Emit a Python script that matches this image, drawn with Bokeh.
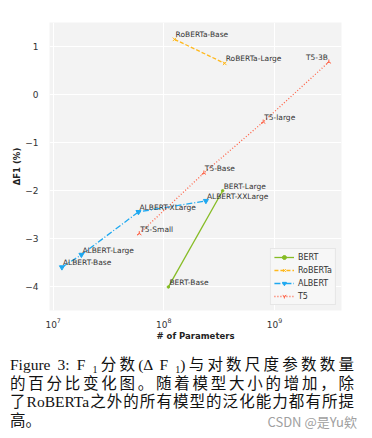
import math
from bokeh.plotting import figure
from bokeh.models import FixedTicker, Div, Range1d
from bokeh.layouts import column
from bokeh.core.properties import value
from bokeh.embed import file_html
from bokeh.resources import INLINE

# ---- data ----
bert_names = ["BERT-Base", "BERT-Large"]
bert_params = [1.1e8, 3.4e8]
bert_delta = [-4.0, -2.0]

roberta_names = ["RoBERTa-Base", "RoBERTa-Large"]
roberta_params = [1.25e8, 3.55e8]
roberta_delta = [1.15, 0.65]

albert_names = ["ALBERT-Base", "ALBERT-Large", "ALBERT-XLarge", "ALBERT-XXLarge"]
albert_params = [1.2e7, 1.8e7, 5.9e7, 2.4e8]
albert_delta = [-3.59, -3.33, -2.44, -2.21]

t5_names = ["T5-Small", "T5-Base", "T5-large", "T5-3B"]
t5_params = [6.0e7, 2.3e8, 7.9e8, 3.1e9]
t5_delta = [-2.89, -1.63, -0.57, 0.68]

y_ticks = [-4, -3, -2, -1, 0, 1]
x_ticks = [1e7, 1e8, 1e9]

SUB = '<span style="font-size:10px;position:relative;top:3px;line-height:0;">1</span>'
caption_lines = [
    f"Figure 3: F {SUB}分数(Δ F {SUB})与对数尺度参数数量",
    "的百分比变化图。随着模型大小的增加，除",
    "了RoBERTa之外的所有模型的泛化能力都有所提",
    "高。",
]
watermark = "CSDN @是Yu欸"

FONT = "DejaVu Sans"

p = figure(width=372, height=343, x_axis_type="log",
           x_range=Range1d(9.27e6, 4.03e9), y_range=Range1d(-4.49, 1.50),
           output_backend="svg", toolbar_location=None,
           min_border_left=49, min_border_right=31, min_border_top=22, min_border_bottom=32)
p.outline_line_color = None
p.background_fill_color = "#f3f3f3"
p.border_fill_color = "white"

p.xaxis.ticker = FixedTicker(ticks=x_ticks, minor_ticks=[])
p.yaxis.ticker = FixedTicker(ticks=y_ticks, minor_ticks=[])
p.yaxis.major_label_overrides = {t: (str(t).replace("-", "\u2212")) for t in y_ticks}
for ax in (p.xaxis, p.yaxis):
    ax.axis_line_color = None
    ax.major_tick_line_color = None
    ax.minor_tick_line_color = None
    ax.major_label_text_font = FONT
    ax.major_label_text_font_size = "9px"
    ax.major_label_text_color = "#333333"
    ax.axis_label_text_font = FONT
    ax.axis_label_text_font_style = "bold"
    ax.axis_label_text_font_size = "8.5px"
    ax.axis_label_text_color = "#222222"
p.xaxis.axis_label = "# of Parameters"
p.yaxis.axis_label = "ΔF1 (%)"
p.xaxis.major_label_standoff = 1
p.xaxis.axis_label_standoff = 0
p.yaxis.major_label_standoff = 5
p.yaxis.axis_label_standoff = 0

p.xgrid.grid_line_color = "white"
p.ygrid.grid_line_color = "white"
p.xgrid.ticker = FixedTicker(ticks=x_ticks, minor_ticks=[])
p.ygrid.ticker = FixedTicker(ticks=y_ticks, minor_ticks=[])
p.xgrid.grid_line_width = 1
p.ygrid.grid_line_width = 1

c_bert = "#86bc25"
c_rob = "#ffb81c"
c_alb = "#1ea8f0"
c_t5 = "#ff6347"

p.line(bert_params, bert_delta, color=c_bert, line_width=1.3, legend_label="BERT")
p.scatter(bert_params, bert_delta, marker="circle", size=2.5, color=c_bert, legend_label="BERT")

p.line(roberta_params, roberta_delta, color=c_rob, line_width=1.3, line_dash="4 2", legend_label="RoBERTa")
p.scatter(roberta_params, roberta_delta, marker="x", size=5, line_color=c_rob, line_width=1, legend_label="RoBERTa")

p.line(albert_params, albert_delta, color=c_alb, line_width=1.3, line_dash="6 2 1 2", legend_label="ALBERT")
p.scatter(albert_params, albert_delta, marker="inverted_triangle", size=5, color=c_alb, legend_label="ALBERT")

p.line(t5_params, t5_delta, color=c_t5, line_width=1.3, line_dash="1 2", legend_label="T5")
p.scatter(t5_params, t5_delta, marker="y", size=5, angle=math.pi, line_color=c_t5, line_width=1, legend_label="T5")

lab_kw = dict(text_font=value(FONT), text_font_size="7.5px", text_color="#333333",
              text_baseline="bottom")
left_x = bert_params + roberta_params + albert_params + t5_params[:3]
left_y = bert_delta + roberta_delta + albert_delta + t5_delta[:3]
left_t = bert_names + roberta_names + albert_names + t5_names[:3]
p.text(left_x, left_y, text=left_t, text_align="left", x_offset=1, **lab_kw)
p.text(t5_params[3:], t5_delta[3:], text=t5_names[3:], text_align="right", x_offset=-1, **lab_kw)

lg = p.legend[0]
lg.location = "bottom_right"
lg.margin = 5
lg.padding = 3
lg.spacing = 3
lg.glyph_width = 20
lg.glyph_height = 10
lg.label_height = 10
lg.label_standoff = 4
lg.label_text_font = FONT
lg.label_text_font_size = "8px"
lg.label_text_color = "#333333"
lg.background_fill_color = "#f7f7f7"
lg.background_fill_alpha = 1.0
lg.border_line_color = "#d6d6d6"
lg.border_line_width = 1

line_style = ("white-space:nowrap;text-align:justify;text-align-last:justify;"
              "height:18.7px;line-height:18.7px;")
html = ('<div style="position:relative;left:5px;width:344px;padding-top:8px;'
        'font-family:\'Liberation Serif\',\'Noto Sans CJK SC\',serif;font-size:15.5px;color:#111;">')
for ln in caption_lines[:-1]:
    html += f'<div style="{line_style}">{ln}</div>'
html += ('<div style="position:relative;white-space:nowrap;height:18.7px;line-height:18.7px;">'
         f'{caption_lines[-1]}'
         '<span style="position:absolute;right:-3px;top:1px;font-family:\'Noto Sans CJK SC\',sans-serif;'
         f'font-size:13px;color:#a0a0a0;line-height:18px;">{watermark}</span></div>')
html += '</div>'
cap = Div(text=html, width=372, height=95)

layout = column(p, cap, spacing=0)
open("out.html", "w").write(file_html(layout, INLINE))
